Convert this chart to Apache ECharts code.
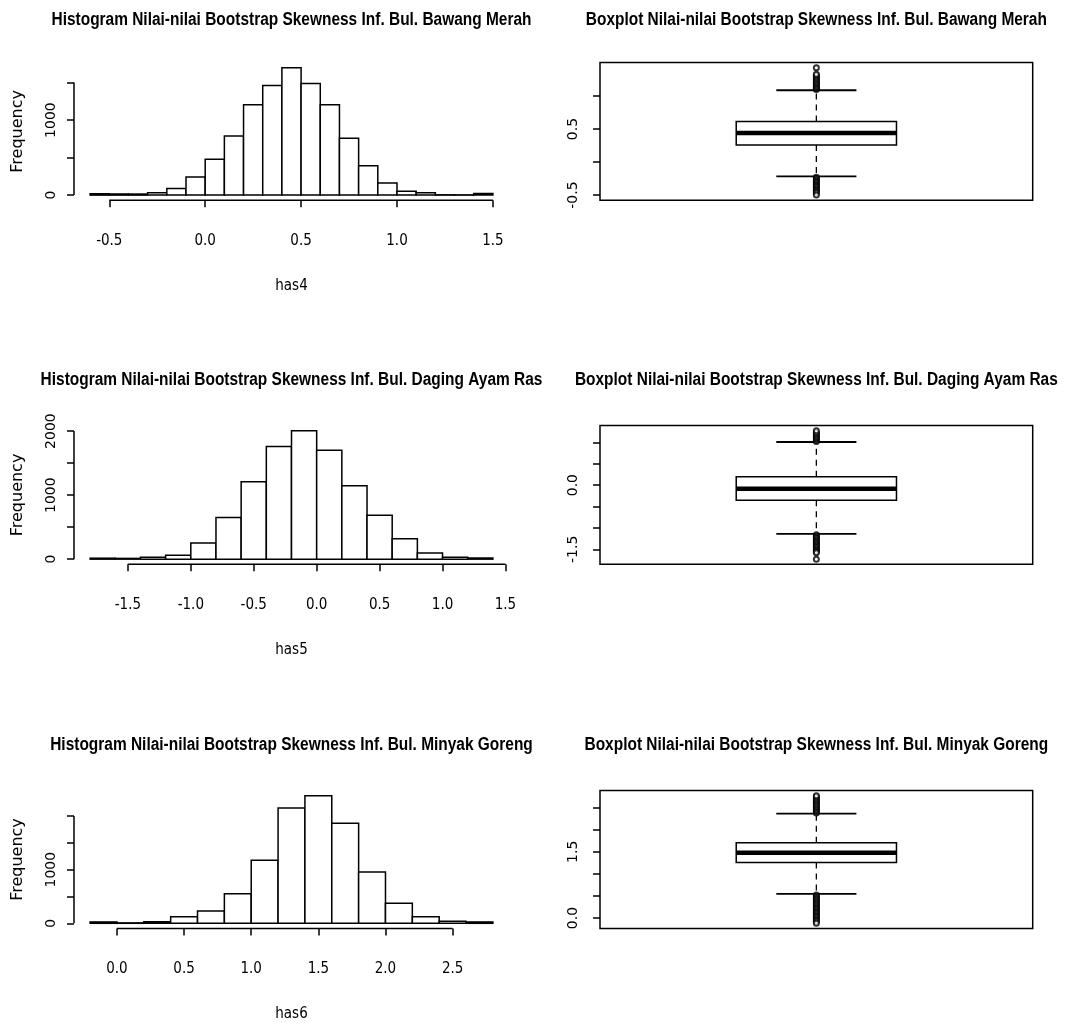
<!DOCTYPE html>
<html>
<head>
<meta charset="utf-8">
<script src="https://cdn.jsdelivr.net/npm/echarts@6/dist/echarts.min.js"></script>
<style>
  html, body { margin: 0; padding: 0; background: #fff; }
  #chart { width: 1067px; height: 1029px; }
</style>
</head>
<body>
<div id="chart"></div>
<script>
const histTitles = [
  'Histogram Nilai-nilai Bootstrap Skewness Inf. Bul. Bawang Merah',
  'Histogram Nilai-nilai Bootstrap Skewness Inf. Bul. Daging Ayam Ras',
  'Histogram Nilai-nilai Bootstrap Skewness Inf. Bul. Minyak Goreng'
];
const boxTitles = [
  'Boxplot Nilai-nilai Bootstrap Skewness Inf. Bul. Bawang Merah',
  'Boxplot Nilai-nilai Bootstrap Skewness Inf. Bul. Daging Ayam Ras',
  'Boxplot Nilai-nilai Bootstrap Skewness Inf. Bul. Minyak Goreng'
];
const varNames = ['has4', 'has5', 'has6'];

// histogram bin edges and counts
const breaks1 = [-0.6, -0.5, -0.4, -0.3, -0.2, -0.1, 0.0, 0.1, 0.2, 0.3, 0.4, 0.5, 0.6, 0.7, 0.8, 0.9, 1.0, 1.1, 1.2, 1.3, 1.4, 1.5];
const counts1 = [18, 15, 14, 30, 89, 241, 477, 789, 1203, 1462, 1698, 1488, 1203, 758, 392, 160, 53, 31, 4, 3, 22];
const breaks2 = [-1.8, -1.6, -1.4, -1.2, -1.0, -0.8, -0.6, -0.4, -0.2, 0.0, 0.2, 0.4, 0.6, 0.8, 1.0, 1.2, 1.4];
const counts2 = [15, 12, 30, 63, 253, 649, 1209, 1758, 2006, 1700, 1145, 686, 317, 95, 30, 18];
const breaks3 = [-0.2, 0.0, 0.2, 0.4, 0.6, 0.8, 1.0, 1.2, 1.4, 1.6, 1.8, 2.0, 2.2, 2.4, 2.6, 2.8];
const counts3 = [25, 8, 28, 124, 230, 553, 1174, 2150, 2380, 1864, 957, 373, 124, 37, 25];

// axis ticks and which ticks carry a label
const xTicks1 = [-0.5, 0.0, 0.5, 1.0, 1.5];
const xTicks2 = [-1.5, -1.0, -0.5, 0.0, 0.5, 1.0, 1.5];
const xTicks3 = [0.0, 0.5, 1.0, 1.5, 2.0, 2.5];
const yTicks1 = [0, 500, 1000, 1500];
const yLabels1 = [0, 1000];
const yTicks2 = [0, 500, 1000, 1500, 2000];
const yLabels2 = [0, 1000, 2000];
const yTicks3 = [0, 500, 1000, 1500, 2000];
const yLabels3 = [0, 1000];

// boxplot stats: lower whisker, Q1, median, Q3, upper whisker
const box1 = [-0.215, 0.259, 0.44, 0.615, 1.088];
const box2 = [-1.14, -0.354, -0.087, 0.196, 1.007];
const box3 = [0.545, 1.259, 1.477, 1.705, 2.364];
const outliers1 = [1.10, 1.12, 1.13, 1.15, 1.17, 1.19, 1.21, 1.23, 1.25, 1.27, 1.29, 1.31, 1.33, 1.43,
  -0.23, -0.25, -0.27, -0.29, -0.31, -0.33, -0.35, -0.37, -0.39, -0.41, -0.43, -0.45, -0.47, -0.50];
const outliers2 = [1.02, 1.05, 1.08, 1.11, 1.14, 1.17, 1.20, 1.23, 1.27,
  -1.16, -1.19, -1.22, -1.25, -1.28, -1.31, -1.34, -1.37, -1.40, -1.43, -1.46, -1.49, -1.52, -1.55, -1.58, -1.73];
const outliers3 = [2.38, 2.41, 2.44, 2.47, 2.50, 2.53, 2.56, 2.59, 2.62, 2.65, 2.68, 2.71, 2.74, 2.77,
  0.52, 0.49, 0.46, 0.43, 0.40, 0.37, 0.34, 0.31, 0.28, 0.25, 0.22, 0.19, 0.16, 0.13, 0.10, 0.07, 0.04, 0.01, -0.02, -0.05, -0.08, -0.12];
const boxTicks1 = [-0.5, 0.0, 0.5, 1.0];
const boxLabels1 = [-0.5, 0.5];
const boxTicks2 = [-1.5, -1.0, -0.5, 0.0, 0.5, 1.0];
const boxLabels2 = [-1.5, 0.0];
const boxTicks3 = [0.0, 0.5, 1.0, 1.5, 2.0, 2.5];
const boxLabels3 = [0.0, 1.5];

const hists = [
  { breaks: breaks1, counts: counts1, xTicks: xTicks1, yTicks: yTicks1, yLabels: yLabels1 },
  { breaks: breaks2, counts: counts2, xTicks: xTicks2, yTicks: yTicks2, yLabels: yLabels2 },
  { breaks: breaks3, counts: counts3, xTicks: xTicks3, yTicks: yTicks3, yLabels: yLabels3 }
];
const boxes = [
  { stats: box1, out: outliers1, ticks: boxTicks1, labels: boxLabels1 },
  { stats: box2, out: outliers2, ticks: boxTicks2, labels: boxLabels2 },
  { stats: box3, out: outliers3, ticks: boxTicks3, labels: boxLabels3 }
];

// layout
const rowTop = [62.6, 425.6, 790.6];
const rowHeight = [137.6, 138.7, 137.8];
const titleY = [20, 380, 745];
const histLeft = 74, histWidth = 435;
const boxLeft = 600, boxWidth = 432.7;
const narrow = '"DejaVu Sans Condensed", "Liberation Sans", sans-serif';
const wide = '"DejaVu Sans", sans-serif';
const titleFont = 'bold 18px "Liberation Sans", Arial, sans-serif';

// squeeze the bold title font to the narrow look of the original
const mctx = document.createElement('canvas').getContext('2d');
mctx.font = titleFont;
const titleScale = 480 / mctx.measureText(histTitles[0]).width;

// R style range: extend by 4% each side
const ext = (lo, hi) => [lo - 0.04 * (hi - lo), hi + 0.04 * (hi - lo)];

const chart = echarts.init(document.getElementById('chart'));
const grid = [], xAxis = [], yAxis = [], series = [], graphic = [];
const black = '#000';
const tickStyle = { color: black, width: 1.5 };

const addTitle = (text, cx, cy) => graphic.push({
  type: 'text', x: cx, y: cy, scaleX: titleScale, silent: true,
  style: { text, font: titleFont, fill: black, align: 'center', verticalAlign: 'middle',
    textAlign: 'center', textVerticalAlign: 'middle' }
});

hists.forEach((h, i) => {
  const g = grid.length;
  const [xMin, xMax] = ext(h.breaks[0], h.breaks[h.breaks.length - 1]);
  const [yMin, yMax] = ext(0, Math.max(...h.counts));
  grid.push({ left: histLeft, top: rowTop[i], width: histWidth, height: rowHeight[i] });
  xAxis.push({
    gridIndex: g, type: 'value', min: xMin, max: xMax,
    axisLine: { show: false, onZero: false }, splitLine: { show: false },
    axisTick: { show: true, customValues: h.xTicks, length: 7, lineStyle: tickStyle },
    axisLabel: { customValues: h.xTicks, formatter: v => v.toFixed(1), margin: 33,
      fontFamily: narrow, fontSize: 15, color: black },
    name: varNames[i], nameLocation: 'middle', nameGap: 78,
    nameTextStyle: { fontFamily: narrow, fontSize: 15, color: black }
  });
  yAxis.push({
    gridIndex: g, type: 'value', min: yMin, max: yMax,
    axisLine: { show: false, onZero: false }, splitLine: { show: false },
    axisTick: { show: true, customValues: h.yTicks, length: 7, lineStyle: tickStyle },
    axisLabel: { customValues: h.yLabels, rotate: 90, margin: 16, formatter: v => String(v),
      fontFamily: wide, fontSize: 14, color: black },
    name: 'Frequency', nameLocation: 'middle', nameGap: 48,
    nameTextStyle: { fontFamily: wide, fontSize: 16, color: black }
  });
  series.push({
    type: 'custom', xAxisIndex: g, yAxisIndex: g, silent: true, clip: false,
    data: h.counts.map((c, k) => [h.breaks[k], h.breaks[k + 1], c]),
    encode: { x: [0, 1], y: 2 },
    renderItem(params, api) {
      const p0 = api.coord([api.value(0), api.value(2)]);
      const p1 = api.coord([api.value(1), 0]);
      return {
        type: 'rect',
        shape: { x: p0[0], y: p0[1], width: p1[0] - p0[0], height: p1[1] - p0[1] },
        style: { fill: '#fff', stroke: black, lineWidth: 1.5 }
      };
    }
  });
  // R draws the axis line only between the first and last tick
  series.push({
    type: 'line', xAxisIndex: g, yAxisIndex: g, silent: true, clip: false, symbol: 'none',
    data: [[h.xTicks[0], yMin], [h.xTicks[h.xTicks.length - 1], yMin]],
    lineStyle: { color: black, width: 1.5 }
  });
  series.push({
    type: 'line', xAxisIndex: g, yAxisIndex: g, silent: true, clip: false, symbol: 'none',
    data: [[xMin, h.yTicks[0]], [xMin, h.yTicks[h.yTicks.length - 1]]],
    lineStyle: { color: black, width: 1.5 }
  });
  addTitle(histTitles[i], histLeft + histWidth / 2, titleY[i]);
});

boxes.forEach((b, i) => {
  const g = grid.length;
  const vals = b.stats.concat(b.out);
  const [yMin, yMax] = ext(Math.min(...vals), Math.max(...vals));
  grid.push({ left: boxLeft, top: rowTop[i], width: boxWidth, height: rowHeight[i],
    show: true, borderColor: black, borderWidth: 1.5, backgroundColor: 'transparent' });
  xAxis.push({ gridIndex: g, type: 'value', min: 0.46, max: 1.54, show: false });
  yAxis.push({
    gridIndex: g, type: 'value', min: yMin, max: yMax,
    axisLine: { show: false, onZero: false }, splitLine: { show: false },
    axisTick: { show: true, customValues: b.ticks, length: 7, lineStyle: tickStyle },
    axisLabel: { customValues: b.labels, rotate: 90, formatter: v => v.toFixed(1), margin: 20,
      fontFamily: wide, fontSize: 14, color: black }
  });
  series.push({
    type: 'custom', xAxisIndex: g, yAxisIndex: g, silent: true, clip: false,
    data: [[1].concat(b.stats)],
    renderItem(params, api) {
      const x = api.value(0);
      const lo = api.value(1), q1 = api.value(2), med = api.value(3), q3 = api.value(4), hi = api.value(5);
      const c = (vx, vy) => api.coord([vx, vy]);
      const seg = (a, z, w, dash) => ({
        type: 'line', shape: { x1: a[0], y1: a[1], x2: z[0], y2: z[1] },
        style: { stroke: black, lineWidth: w, lineDash: dash || null }
      });
      const tl = c(x - 0.2, q3), br = c(x + 0.2, q1);
      return {
        type: 'group',
        children: [
          seg(c(x, q3), c(x, hi), 1.3, [6, 5]),
          seg(c(x, q1), c(x, lo), 1.3, [6, 5]),
          seg(c(x - 0.1, hi), c(x + 0.1, hi), 1.8),
          seg(c(x - 0.1, lo), c(x + 0.1, lo), 1.8),
          { type: 'rect', shape: { x: tl[0], y: tl[1], width: br[0] - tl[0], height: br[1] - tl[1] },
            style: { fill: '#fff', stroke: black, lineWidth: 1.5 } },
          seg(c(x - 0.2, med), c(x + 0.2, med), 4.5)
        ]
      };
    }
  });
  series.push({
    type: 'scatter', xAxisIndex: g, yAxisIndex: g, silent: true,
    data: b.out.map(v => [1, v]),
    symbol: 'emptyCircle', symbolSize: 5,
    itemStyle: { color: black, borderColor: black, borderWidth: 1.8 }
  });
  addTitle(boxTitles[i], boxLeft + boxWidth / 2, titleY[i]);
});

chart.setOption({
  backgroundColor: '#fff',
  animation: false,
  graphic, grid, xAxis, yAxis, series
});
</script>
</body>
</html>
